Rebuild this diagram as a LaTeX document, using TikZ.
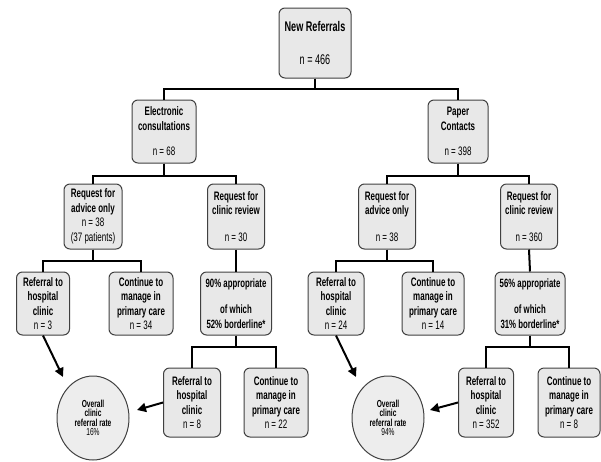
\documentclass[tikz,border=0pt]{standalone}
\usepackage{fontspec}
\setmainfont{Liberation Sans}[FakeStretch=0.65]
\usetikzlibrary{arrows.meta, shapes.geometric}
\newcommand{\nlab}[1]{{\mdseries #1}}

\begin{document}
\begin{tikzpicture}[x=1pt, y=-1pt,
  box/.style={draw=black!75, line width=1pt, fill=black!9, rounded corners=6pt,
    align=center, inner sep=1pt, font=\fontsize{12.3}{14.5}\selectfont\bfseries},
  rate/.style={ellipse, draw=black!75, line width=1pt, fill=black!7, align=center,
    minimum width=72pt, minimum height=84pt, inner sep=0pt,
    font=\fontsize{10.2}{9.4}\selectfont\bfseries},
  link/.style={line width=2pt},
  arr/.style={line width=2pt, -{Triangle[length=9pt, width=9pt]}}]
  \useasboundingbox (0,0) rectangle (601,461);

  % Top level
  \node[box, minimum width=72pt, minimum height=70pt,
        font=\fontsize{14}{16}\selectfont\bfseries] (ref) at (315,43)
        {New Referrals\\[17pt]\nlab{n = 466}};

  % Second level
  \node[box, minimum width=64pt, minimum height=63pt] (econ) at (164,131.5)
        {Electronic\\consultations\\[11pt]\nlab{n = 68}};
  \node[box, minimum width=60pt, minimum height=63pt] (paper) at (458,131.5)
        {Paper\\Contacts\\[11pt]\nlab{n = 398}};

  % Third level
  \node[box, minimum width=58pt, minimum height=65pt] (advL) at (93,216.5)
        {Request for\\advice only\\\nlab{n = 38}\\\nlab{(37 patients)}};
  \node[box, minimum width=57pt, minimum height=65pt] (revL) at (236,216.5)
        {Request for\\clinic review\\[12pt]\nlab{n = 30}};
  \node[box, minimum width=57pt, minimum height=65pt] (advR) at (387,216.5)
        {Request for\\advice only\\[12pt]\nlab{n = 38}};
  \node[box, minimum width=57pt, minimum height=65pt] (revR) at (529,216.5)
        {Request for\\clinic review\\[12pt]\nlab{n = 360}};

  % Fourth level
  \node[box, minimum width=53pt, minimum height=63pt] (hospA) at (43,303.5)
        {Referral to\\hospital\\clinic\\\nlab{n = 3}};
  \node[box, minimum width=64pt, minimum height=63pt] (contA) at (141,303.5)
        {Continue to\\manage in\\primary care\\\nlab{n = 34}};
  \node[box, minimum width=71pt, minimum height=63pt,
        font=\fontsize{12}{15}\selectfont\bfseries] (apprL) at (236,303.5)
        {90\% appropriate\\[11pt]of which\\52\% borderline*};
  \node[box, minimum width=56pt, minimum height=63pt] (hospB) at (336,303.5)
        {Referral to\\hospital\\clinic\\\nlab{n = 24}};
  \node[box, minimum width=62pt, minimum height=63pt] (contB) at (433,303.5)
        {Continue to\\manage in\\primary care\\\nlab{n = 14}};
  \node[box, minimum width=70pt, minimum height=63pt,
        font=\fontsize{12}{15}\selectfont\bfseries] (apprR) at (530,303.5)
        {56\% appropriate\\[11pt]of which\\31\% borderline*};

  % Fifth level
  \node[box, minimum width=57pt, minimum height=69pt] (hospC) at (192,402.5)
        {Referral to\\hospital\\clinic\\\nlab{n = 8}};
  \node[box, minimum width=64pt, minimum height=69pt] (contC) at (276,402.5)
        {Continue to\\manage in\\primary care\\\nlab{n = 22}};
  \node[box, minimum width=55pt, minimum height=69pt] (hospD) at (486,402.5)
        {Referral to\\hospital\\clinic\\\nlab{n = 352}};
  \node[box, minimum width=62pt, minimum height=69pt] (contD) at (569,402.5)
        {Continue to\\manage in\\primary care\\\nlab{n = 8}};

  % Overall rates
  \node[rate] (rateL) at (93,418) {Overall\\clinic\\referral rate\\\nlab{16\%}};
  \node[rate] (rateR) at (388,418) {Overall\\clinic\\referral rate\\\nlab{94\%}};

  % Tree links
  \draw[link] (ref.south) -- ++(0,10) -| (econ.north);
  \draw[link] (ref.south) -- ++(0,10) -| (paper.north);
  \draw[link] (econ.south) -- ++(0,12) -| (advL.north);
  \draw[link] (econ.south) -- ++(0,12) -| (revL.north);
  \draw[link] (paper.south) -- ++(0,12) -| (advR.north);
  \draw[link] (paper.south) -- ++(0,12) -| (revR.north);
  \draw[link] (advL.south) -- ++(0,11) -| (hospA.north);
  \draw[link] (advL.south) -- ++(0,11) -| (contA.north);
  \draw[link] (revL.south) -- (apprL.north);
  \draw[link] (advR.south) -- ++(0,11) -| (hospB.north);
  \draw[link] (advR.south) -- ++(0,11) -| (contB.north);
  \draw[link] (revR.south) -- (apprR.north);
  \draw[link] (apprL.south) -- ++(0,11) -| (hospC.north);
  \draw[link] (apprL.south) -- ++(0,11) -| (contC.north);
  \draw[link] (apprR.south) -- ++(0,11) -| (hospD.north);
  \draw[link] (apprR.south) -- ++(0,11) -| (contD.north);

  % Arrows to the rates
  \coordinate (tipA) at (63,377);
  \coordinate (tipC) at (137,410);
  \coordinate (tipB) at (356,377);
  \coordinate (tipD) at (430,410);
  \draw[arr] (hospA.south) -- (tipA);
  \draw[arr] (hospC.west) -- (tipC);
  \draw[arr] (hospB.south) -- (tipB);
  \draw[arr] (hospD.west) -- (tipD);
\end{tikzpicture}
\end{document}
